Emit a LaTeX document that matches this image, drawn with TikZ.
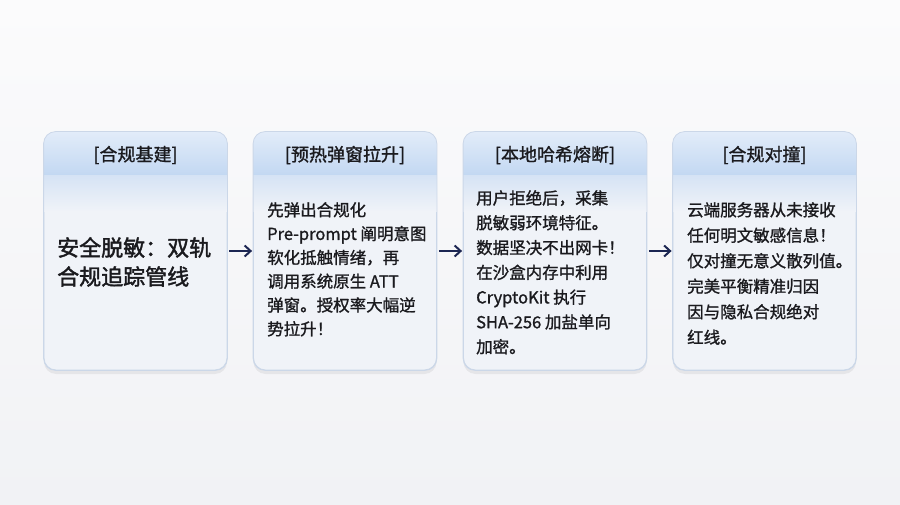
\documentclass[tikz,border=0pt]{standalone}
\usepackage{fontspec}
\setmainfont{Noto Sans CJK SC}
\newfontfamily\midfont{Noto Sans CJK SC}[FakeBold=1.2]
\newfontfamily\heavyfont{Noto Sans CJK SC}[FakeBold=1.8]
\usetikzlibrary{arrows.meta,positioning,shadows}
\definecolor{bgtop}{HTML}{FBFBFC}
\definecolor{bgbot}{HTML}{F1F2F5}
\definecolor{cardbody}{HTML}{F0F3F8}
\definecolor{cardedge}{HTML}{CBD7E8}
\definecolor{headtop}{HTML}{E2ECF9}
\definecolor{headbot}{HTML}{C3D8F2}
\definecolor{inktext}{HTML}{1A1A1E}
\definecolor{flowink}{HTML}{1C2652}

\begin{document}
\begin{tikzpicture}[x=1pt, y=-1pt,
		card/.style={draw=cardedge, line width=0.8pt, fill=cardbody, rounded corners=12pt,
			minimum width=183pt, minimum height=238pt, inner sep=0pt,
			drop shadow={shadow xshift=0pt, shadow yshift=-4pt, opacity=0.06, fill=black}},
		headband/.style={top color=headtop, bottom color=headbot},
		glow/.style={top color=headbot!60!cardbody, bottom color=cardbody},
		headtext/.style={font=\midfont\fontsize{18}{20}\selectfont, text=inktext},
		bodytext/.style={anchor=north west, align=left, inner sep=0pt, text=inktext},
		flow/.style={-{Straight Barb[length=6pt, width=11pt]}, draw=flowink, line width=2pt,
			shorten <=2pt, shorten >=1pt}
	]
	% Background
	\shade[top color=bgtop, bottom color=bgbot] (0,0) rectangle (900,505);
	\useasboundingbox (0,0) rectangle (900,505);

	% Cards
	\foreach \name/\cx in {b1/135.5, b2/345, b3/555, b4/764.5} {
		\node[card] (\name) at (\cx,251) {};
		\begin{scope}
			\clip[rounded corners=12pt] (\name.north west) rectangle (\name.south east);
			\shade[glow] ([yshift=-43pt]\name.north west) rectangle ([yshift=-80pt]\name.north east);
			\shade[headband] (\name.north west) rectangle ([yshift=-43pt]\name.north east);
		\end{scope}
		\draw[cardedge, line width=0.8pt, rounded corners=12pt] (\name.north west) rectangle (\name.south east);
	}

	% Headers
	\node[headtext] (h1) at (135.5,155) {[合规基建]};
	\node[headtext] (h2) at (345,155) {[预热弹窗拉升]};
	\node[headtext] (h3) at (555,155) {[本地哈希熔断]};
	\node[headtext] (h4) at (764.5,155) {[合规对撞]};

	% Card 1: title
	\node[bodytext, font=\heavyfont\fontsize{22}{29}\selectfont] (t1) at (57,237)
		{安全脱敏：双轨\\合规追踪管线};

	% Card 2
	\node[bodytext, font=\midfont\fontsize{16.5}{23.8}\selectfont] (t2) at (267,202)
		{先弹出合规化\\Pre-prompt 阐明意图\\软化抵触情绪，再\\调用系统原生 ATT\\弹窗。授权率大幅逆\\势拉升！};

	% Card 3
	\node[bodytext, font=\midfont\fontsize{16.5}{24.8}\selectfont] (t3) at (476,190)
		{用户拒绝后，采集\\脱敏弱环境特征。\\数据坚决不出网卡！\\在沙盒内存中利用\\CryptoKit 执行\\SHA-256 加盐单向\\加密。};

	% Card 4
	\node[bodytext, font=\midfont\fontsize{16.5}{25.5}\selectfont] (t4) at (687,202)
		{云端服务器从未接收\\任何明文敏感信息！\\仅对撞无意义散列值。\\完美平衡精准归因\\因与隐私合规绝对\\红线。};

	% Flow arrows
	\draw[flow] (b1.east) -- (b2.west);
	\draw[flow] (b2.east) -- (b3.west);
	\draw[flow] (b3.east) -- (b4.west);
\end{tikzpicture}
\end{document}
